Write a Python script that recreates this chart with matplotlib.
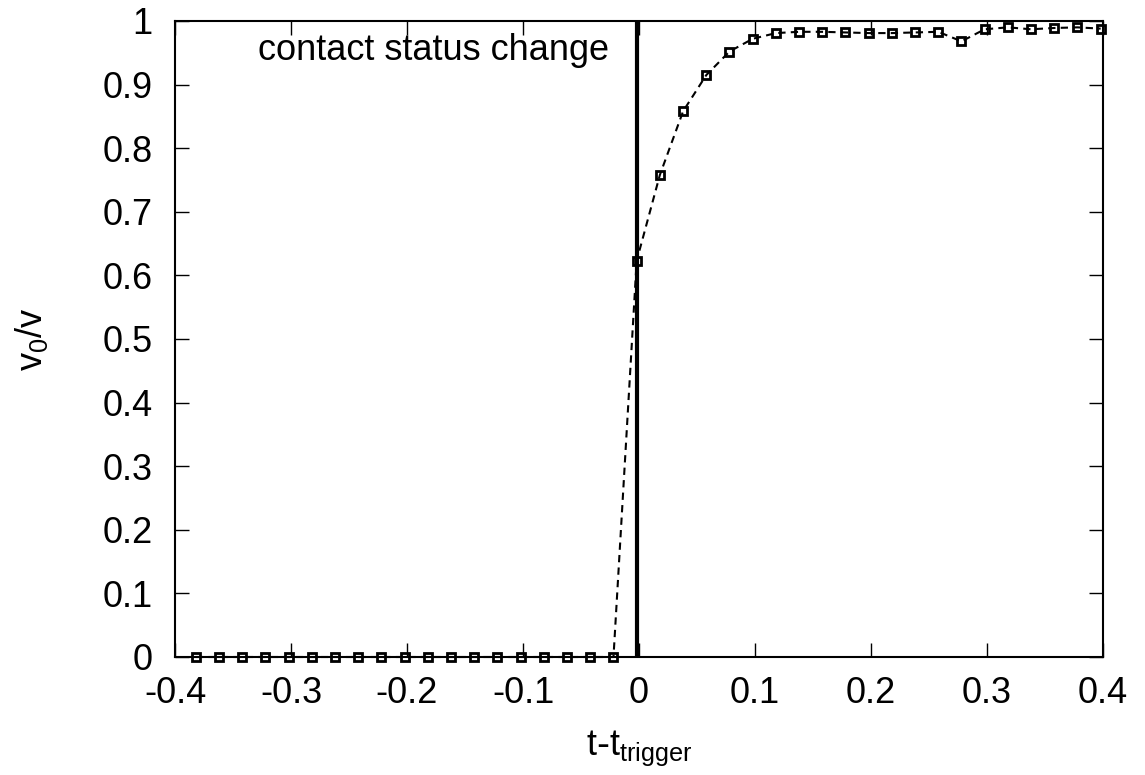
import matplotlib
matplotlib.use("Agg")
import matplotlib.pyplot as plt
import numpy as np

plt.rcParams['font.family'] = ['Liberation Sans', 'DejaVu Sans']

# data
t = [-0.382, -0.362, -0.342, -0.322, -0.302, -0.282, -0.262, -0.242, -0.222, -0.202,
     -0.182, -0.162, -0.142, -0.122, -0.102, -0.082, -0.062, -0.042, -0.022,
     -0.002, 0.018, 0.038, 0.058, 0.078, 0.098, 0.118, 0.138, 0.158, 0.178,
     0.198, 0.218, 0.238, 0.258, 0.278, 0.298, 0.318, 0.338, 0.358, 0.378, 0.398]
ratio = [0]*19 + [0.623, 0.758, 0.858, 0.915, 0.952, 0.972, 0.981, 0.983, 0.983, 0.982,
                  0.981, 0.981, 0.982, 0.983, 0.968, 0.987, 0.990, 0.987, 0.989, 0.990, 0.988]
trigger_x = -0.002
xticks = [-0.4, -0.3, -0.2, -0.1, 0, 0.1, 0.2, 0.3, 0.4]
yticks = [0, 0.1, 0.2, 0.3, 0.4, 0.5, 0.6, 0.7, 0.8, 0.9, 1]

fig = plt.figure(figsize=(11.45, 7.75), dpi=100)
ax = fig.add_axes([175/1145, 1-657/775, (1103-175)/1145, (657-21)/775])

ax.plot(t, ratio, color='black', linestyle=(0, (3.5, 2.5)), linewidth=1.5,
        marker='s', markersize=5.5, markerfacecolor='none', markeredgecolor='black',
        markeredgewidth=2, clip_on=False, zorder=3)
ax.axvline(trigger_x, color='black', linewidth=3, zorder=2)

ax.text(0.089, 0.954, 'contact status change', transform=ax.transAxes,
        fontsize=26, ha='left', va='center')

ax.set_xlim(-0.4, 0.4)
ax.set_ylim(0, 1)
ax.set_xticks(xticks)
ax.set_yticks(yticks)
ax.set_xticklabels([f'{v:g}' for v in xticks])
ax.set_yticklabels([f'{v:g}' for v in yticks])
ax.tick_params(axis='x', pad=14)
ax.tick_params(axis='y', pad=16)
ax.tick_params(direction='in', length=10, width=1, top=True, right=True,
               labelsize=26)
for s in ax.spines.values():
    s.set_linewidth(1.5)

ax.set_xlabel(r'$\mathregular{t\text{-}t_{trigger}}$', fontsize=26, labelpad=12)
ax.set_ylabel(r'$\mathregular{v_0/v}$', fontsize=26, labelpad=38)

fig.savefig('out.png', dpi=100)
